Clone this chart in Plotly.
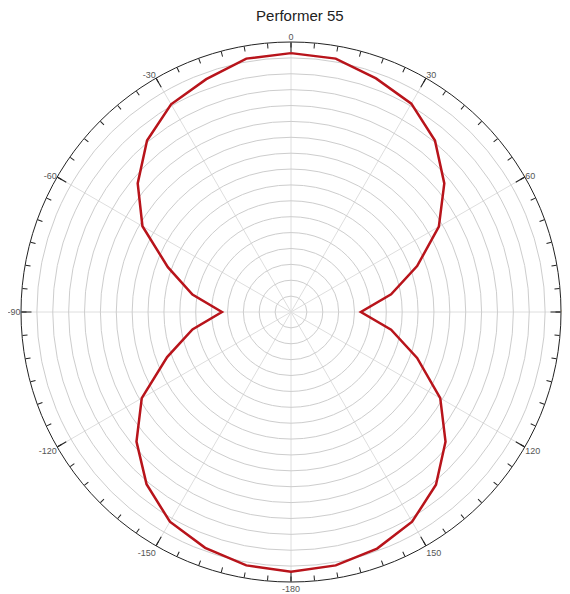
import plotly.graph_objects as go

# Angles (degrees, clockwise from top) and measured response (radial units, outer ring = 17)
angles = [0, 10, 20, 30, 40, 50, 60, 70, 80, 90, 100, 110, 120, 130, 140, 150, 160, 170,
          180, 190, 200, 210, 220, 230, 240, 250, 260, 270, 280, 290, 300, 310, 320, 330, 340, 350, 360]
response = [16.3, 16.2, 15.65, 15.15, 14.1, 12.6, 10.75, 8.45, 6.4, 4.4, 6.4, 8.45, 10.85, 12.7, 14.2, 15.25, 15.85, 16.2,
            16.35, 16.2, 15.8, 15.25, 14.15, 12.7, 10.85, 8.3, 6.3, 4.35, 6.3, 8.25, 10.8, 12.6, 14.1, 15.1, 15.6, 16.2, 16.3]

major_ticks = [0, 30, 60, 90, 120, 150, 180, 210, 240, 270, 300, 330]
major_labels = ["0", "30", "60", "90", "120", "150", "-180", "-150", "-120", "-90", "-60", "-30"]
minor_ticks = list(range(0, 360, 5))
label_map = dict(zip(major_ticks, major_labels))
minor_labels = [label_map.get(t, "") for t in minor_ticks]

radial_max = 17
ring_step = 1

fig = go.Figure()
fig.add_trace(go.Scatterpolar(
    r=response, theta=angles, mode="lines",
    line=dict(color="#b8141b", width=2.5),
    showlegend=False, subplot="polar",
))
# invisible trace for overlay polar (minor ticks + labels)
fig.add_trace(go.Scatterpolar(r=[0], theta=[0], mode="markers", marker=dict(size=0.1, opacity=0),
                              showlegend=False, subplot="polar2", hoverinfo="skip"))

common_domain = dict(x=[0, 1], y=[0, 1])
fig.update_layout(
    width=570, height=594,
    margin=dict(l=13, r=17, t=34, b=20),
    paper_bgcolor="white",
    font=dict(family="Liberation Sans, Arial, sans-serif", color="#555555"),
    title=dict(text="Performer 55", x=0.512, xanchor="center", y=0.995, yanchor="top",
               font=dict(size=15, color="#222222")),
    polar=dict(
        domain=common_domain,
        bgcolor="white",
        radialaxis=dict(range=[0, radial_max], dtick=ring_step, showticklabels=False, ticks="",
                        showline=False, gridcolor="#cdcdcd", gridwidth=1, angle=90,
                        layer="below traces"),
        angularaxis=dict(direction="clockwise", rotation=90, tickmode="array",
                         tickvals=major_ticks, ticktext=[""] * len(major_ticks),
                         showticklabels=False,
                         ticks="inside", ticklen=10, tickcolor="#222222", tickwidth=1,
                         showline=True, linecolor="#222222", linewidth=1,
                         gridcolor="#dedede", gridwidth=1,
                         layer="below traces"),
    ),
    polar2=dict(
        domain=common_domain,
        bgcolor="rgba(0,0,0,0)",
        radialaxis=dict(range=[0, radial_max], visible=False),
        angularaxis=dict(direction="clockwise", rotation=90, tickmode="array",
                         tickvals=minor_ticks, ticktext=minor_labels,
                         ticks="inside", ticklen=5, tickcolor="#222222", tickwidth=1,
                         showline=False, showgrid=False, showticklabels=True,
                         tickfont=dict(size=9, color="#555555")),
    ),
)

fig.write_html("out.html")
